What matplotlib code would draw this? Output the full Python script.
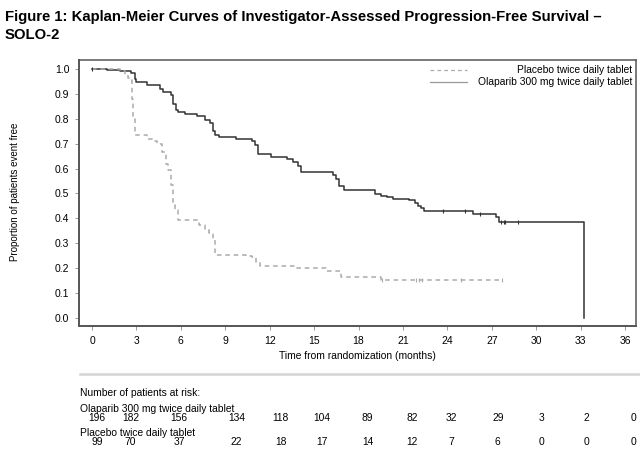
import matplotlib
matplotlib.use("Agg")
import matplotlib.pyplot as plt
import matplotlib.transforms as mtransforms
from matplotlib.lines import Line2D

plt.rcParams['font.family'] = ['Liberation Sans', 'DejaVu Sans']

# ---------------- data ----------------
olap_t = [0, 1.0, 1.9, 2.6, 2.9, 3.0, 3.7, 4.6, 4.8, 5.3, 5.5, 5.7, 5.8, 6.3,
          7.1, 7.6, 8.0, 8.2, 8.3, 8.6, 9.7, 10.8, 11.0, 11.2, 12.1, 13.2, 13.6,
          13.9, 14.1, 16.3, 16.5, 16.7, 17.0, 19.1, 19.5, 19.9, 20.3, 21.4, 21.8,
          22.0, 22.2, 22.4, 25.7, 27.3, 27.5, 33.2]
olap_s = [1.0, 0.995, 0.99, 0.982, 0.96, 0.948, 0.935, 0.92, 0.909, 0.896, 0.86,
          0.835, 0.829, 0.82, 0.81, 0.795, 0.782, 0.75, 0.735, 0.728, 0.719, 0.71,
          0.695, 0.657, 0.648, 0.64, 0.628, 0.61, 0.585, 0.575, 0.56, 0.53, 0.514,
          0.497, 0.49, 0.484, 0.479, 0.474, 0.463, 0.45, 0.44, 0.431, 0.418, 0.405,
          0.387, 0.0]
olap_cens_t = [0.0, 23.7, 25.2, 26.2, 27.6, 27.8, 27.9, 28.8]

plac_t = [0, 1.9, 2.2, 2.4, 2.6, 2.7, 2.8, 2.9, 3.7, 4.1, 4.4, 4.7, 5.0, 5.1,
          5.3, 5.5, 5.6, 5.8, 7.2, 7.6, 7.9, 8.2, 8.3, 10.4, 10.8, 11.1, 11.35,
          13.8, 15.8, 16.8, 19.5]
plac_s = [1.0, 0.99, 0.975, 0.965, 0.956, 0.88, 0.80, 0.735, 0.72, 0.71, 0.70,
          0.668, 0.62, 0.594, 0.534, 0.454, 0.434, 0.394, 0.373, 0.355, 0.34,
          0.313, 0.255, 0.25, 0.246, 0.226, 0.209, 0.2, 0.189, 0.163, 0.153]
plac_end = 27.7
plac_cens_t = [19.6, 21.9, 22.1, 22.3, 24.9, 27.7]

risk_times = [0, 3, 6, 9, 12, 15, 18, 21, 24, 27, 30, 33, 36]
risk_olap = [196, 182, 156, 134, 118, 104, 89, 82, 32, 29, 3, 2, 0]
risk_plac = [99, 70, 37, 22, 18, 17, 14, 12, 7, 6, 0, 0, 0]

olap_label = "Olaparib 300 mg twice daily tablet"
plac_label = "Placebo twice daily tablet"
title = ("Figure 1: Kaplan-Meier Curves of Investigator-Assessed Progression-Free Survival \u2013\n"
         "SOLO-2")
xlabel = "Time from randomization (months)"
ylabel = "Proportion of patients event free"
xticks = [0, 3, 6, 9, 12, 15, 18, 21, 24, 27, 30, 33, 36]
yticks = [0.0, 0.1, 0.2, 0.3, 0.4, 0.5, 0.6, 0.7, 0.8, 0.9, 1.0]

# ---------------- style ----------------
W, H = 640, 457
fig = plt.figure(figsize=(W / 100, H / 100), dpi=100)
ax = fig.add_axes([79 / W, (H - 326) / H, 557 / W, 266 / H])

olap_color = "#333333"
plac_color = "#ababab"
small = 7.4


def step_value(ts, ss, t):
    v = ss[0]
    for ti, si in zip(ts, ss):
        if ti <= t:
            v = si
    return v


# Olaparib step curve
ax.step(olap_t, olap_s, where="post", color=olap_color, lw=1.1)
# Placebo step curve
ax.step(plac_t + [plac_end], plac_s + [plac_s[-1]], where="post",
        color=plac_color, lw=1.1, linestyle=(0, (3, 2.5)))

# censor marks
ax.plot(olap_cens_t, [step_value(olap_t, olap_s, t) for t in olap_cens_t],
        linestyle="none", marker="|", markersize=3.5, color=olap_color, mew=0.8)
ax.plot(plac_cens_t, [step_value(plac_t, plac_s, t) for t in plac_cens_t],
        linestyle="none", marker="|", markersize=3.5, color=plac_color, mew=0.8)

ax.set_xlim(-0.88, 36.74)
ax.set_ylim(-0.032, 1.036)
ax.set_xticks(xticks)
ax.set_xticklabels([str(v) for v in xticks])
ax.set_yticks(yticks)
ax.set_yticklabels([f"{v:.1f}" for v in yticks])
ax.tick_params(axis="both", labelsize=7.5, length=3, width=0.6, color="#888888",
               direction="out", pad=4)
for sp in ax.spines.values():
    sp.set_color("#555555")
    sp.set_linewidth(1.1)
ax.spines["left"].set_linewidth(1.4)
ax.spines["bottom"].set_linewidth(1.4)

# legend (manual, right-aligned text)
for yy, ls, col, lab in [(0.962, (0, (3, 2.5)), plac_color, plac_label),
                         (0.917, "-", "#9a9a9a", olap_label)]:
    ax.add_line(Line2D([0.630, 0.697], [yy, yy], transform=ax.transAxes,
                       color=col, lw=0.9, linestyle=ls))
    ax.text(0.993, yy, lab, transform=ax.transAxes, ha="right", va="center",
            fontsize=small)

# titles and labels
fig.text(5 / W, 1 - 10 / H, title, ha="left", va="top", fontsize=10.7,
         fontweight="bold", linespacing=1.35)
fig.text(357 / W, 1 - 356 / H, xlabel, ha="center", va="center", fontsize=small)
fig.text(15 / W, 1 - 192 / H, ylabel, ha="center", va="center", fontsize=7.0,
         rotation=90)

# separator
fig.add_artist(Line2D([80 / W, 1.0], [1 - 374 / H, 1 - 374 / H],
                      transform=fig.transFigure, color="#d4d4d4", lw=1.8))

# risk table
fig.text(80 / W, 1 - 393 / H, "Number of patients at risk:", ha="left",
         va="center", fontsize=small)
fig.text(80 / W, 1 - 409 / H, olap_label, ha="left", va="center", fontsize=small)
fig.text(80 / W, 1 - 433 / H, plac_label, ha="left", va="center", fontsize=small)

col_offsets_px = [5, -6, -2, 11, 11, 8, 9, 9, 4, 6, 5, 6, 8]
blend = mtransforms.blended_transform_factory(ax.transData, fig.transFigure)
for t, a, b, off in zip(risk_times, risk_olap, risk_plac, col_offsets_px):
    tr = mtransforms.offset_copy(blend, fig=fig, x=off, units="dots")
    ax.text(t, 1 - 418 / H, str(a), transform=tr, ha="center", va="center",
            fontsize=small, clip_on=False)
    ax.text(t, 1 - 442 / H, str(b), transform=tr, ha="center", va="center",
            fontsize=small, clip_on=False)

fig.savefig("out.png", dpi=100)
